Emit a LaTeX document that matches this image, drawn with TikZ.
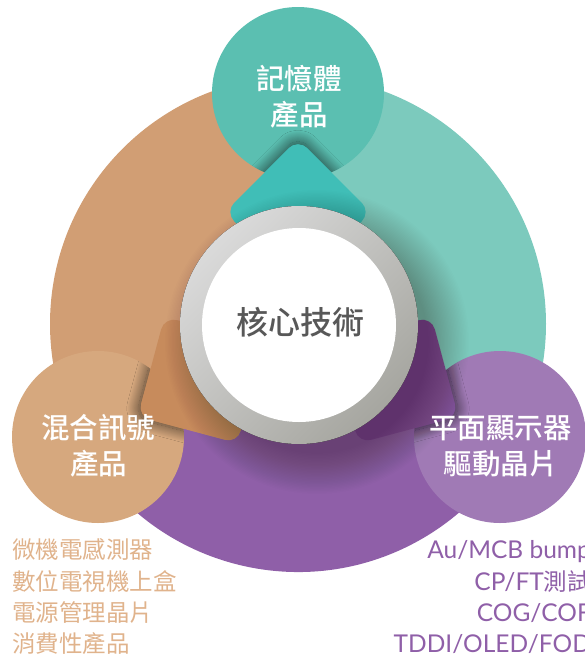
\documentclass[tikz,border=0pt]{standalone}
\usepackage{fontspec}
\setmainfont{Noto Sans CJK TC}
\newfontfamily\cjkmed{Noto Sans CJK TC Medium}
\newfontfamily\latfont{Lato}
\usetikzlibrary{shadows.blur}
\definecolor{tealS}{HTML}{7CCABD}
\definecolor{orangeS}{HTML}{D19E74}
\definecolor{purpleS}{HTML}{8F5FA8}
\definecolor{memC}{HTML}{5BBFB1}
\definecolor{mixC}{HTML}{D6A87E}
\definecolor{panC}{HTML}{A07AB5}
\definecolor{tealD}{HTML}{40BEB7}
\definecolor{orangeD}{HTML}{C78B5C}
\definecolor{purpleD}{HTML}{7D5096}
\definecolor{listL}{HTML}{E0B38C}
\definecolor{listR}{HTML}{8F5FA8}
\definecolor{coreText}{HTML}{585858}
\definecolor{ringLight}{HTML}{DADADA}
\definecolor{ringDark}{HTML}{A6A6A0}
\begin{document}
\begin{tikzpicture}[x=1pt,y=-1pt,
  smallcirc/.style={circle, minimum size=172pt, inner sep=0pt},
  lbl/.style={text=white, align=center, inner sep=0pt, font=\cjkmed\fontsize{28.5}{36}\selectfont},
  listleft/.style={text=listL, anchor=base west, inner sep=0pt, font=\fontsize{23.5}{28}\selectfont},
  listright/.style={text=listR, anchor=base east, inner sep=0pt, font=\fontsize{24.5}{28}\selectfont}]
\useasboundingbox (0,0) rectangle (585,657);
\coordinate (C) at (298,324);
% big sectors
\fill[tealS] (C) -- ++(-90:248) arc[start angle=-90, end angle=30, radius=248] -- cycle;
\fill[orangeS] (C) -- ++(-90:248) arc[start angle=-90, end angle=-210, radius=248] -- cycle;
\fill[purpleS] (C) -- ++(150:248) arc[start angle=150, end angle=30, radius=248] -- cycle;
% small circles
\node[smallcirc, fill=memC] (mem) at (298,93) {};
\node[smallcirc, fill=mixC] (mix) at (98,437) {};
\node[smallcirc, fill=panC] (pan) at (500,437) {};
% diamond shadows on small circles
\foreach \ang/\col/\cx/\cy in {90/tealD/298/93, 210/orangeD/98/437, 330/purpleD/500/437}{
  \begin{scope}
    \clip (\cx,\cy) circle[radius=86];
    \begin{scope}[shift={(C)}, rotate=\ang]
      \fill[\col, rounded corners=13pt, blur shadow={shadow xshift=0pt, shadow yshift=0pt, shadow blur radius=11pt, shadow opacity=65, shadow scale=1.04, shadow blur steps=40}]
        (185,0) -- (112,73) -- (39,0) -- (112,-73) -- cycle;
    \end{scope}
  \end{scope}
}
% diamonds
\foreach \ang/\col in {90/tealD, 210/orangeD, 330/purpleD}{
  \begin{scope}[shift={(C)}, rotate=\ang]
    \fill[\col, rounded corners=13pt] (185,0) -- (112,73) -- (39,0) -- (112,-73) -- cycle;
  \end{scope}
}
% soft shadow of the ring
\foreach \i in {0,...,29}{
  \fill[black, fill opacity=0.008] (317,342) circle[radius={152-\i*1.4}];
}
% ring
\fill[top color=ringLight, bottom color=ringDark, shading angle=45] (299,325) circle[radius=119];
\node[circle, fill=white, minimum size=194pt, inner sep=0pt] (core) at (299,325) {};
\node[text=coreText, inner sep=0pt, font=\cjkmed\fontsize{32}{36}\selectfont] (coretxt) at (300,322) {核心技術};
% labels
\node[lbl] (memlbl) at (299,97) {記憶體\\產品};
\node[lbl] (mixlbl) at (98.5,446) {混合訊號\\產品};
\node[lbl] (panlbl) at (500.5,446) {平面顯示器\\驅動晶片};
% lists
\node[listleft] (l1) at (12,558) {微機電感測器};
\node[listleft] (l2) at (12,590) {數位電視機上盒};
\node[listleft] (l3) at (12,621) {電源管理晶片};
\node[listleft] (l4) at (12,652) {消費性產品};
\node[listright] (r1) at (591,558) {\latfont Au/MCB bump};
\node[listright] (r2) at (591,590) {{\latfont CP/FT}\fontsize{23.5}{28}\selectfont 測試};
\node[listright] (r3) at (591,621) {\latfont COG/COF};
\node[listright] (r4) at (591,652) {\latfont TDDI/OLED/FOD};
\end{tikzpicture}
\end{document}
